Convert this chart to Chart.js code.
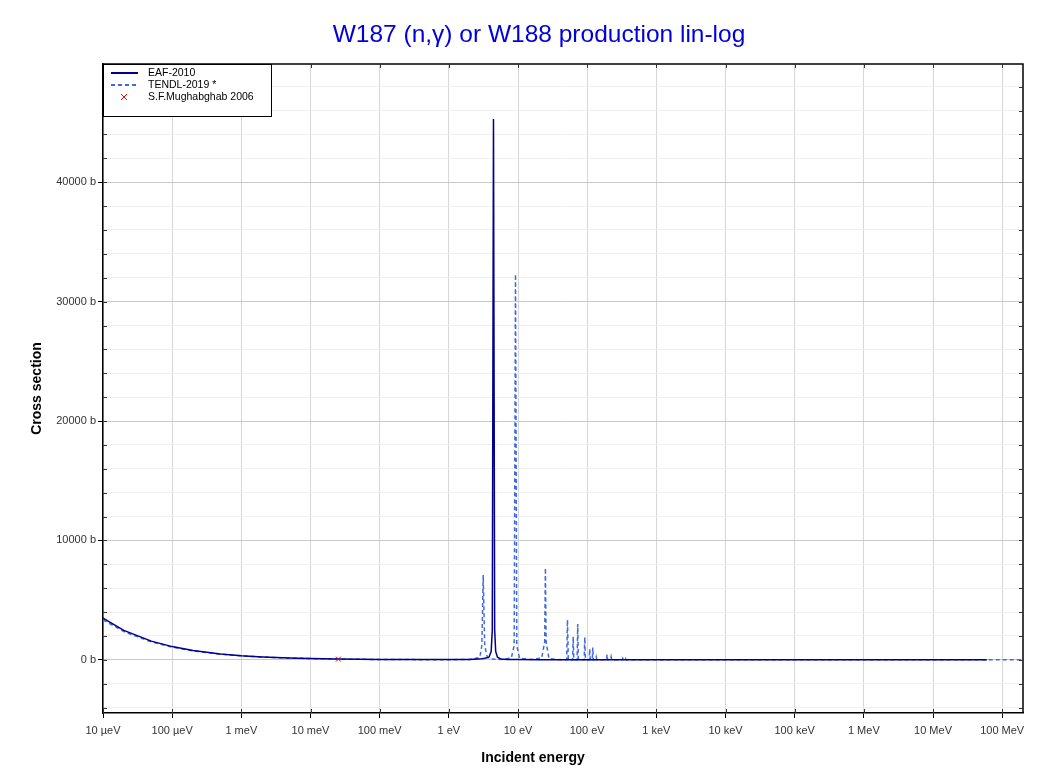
<!DOCTYPE html>
<html>
<head>
<meta charset="utf-8">
<title>W187 (n,γ) or W188 production lin-log</title>
<script src="https://cdn.jsdelivr.net/npm/chart.js@4.4.0/dist/chart.umd.min.js"></script>
<style>
  html, body { margin: 0; padding: 0; background: #fff; }
  #wrap { width: 1053px; height: 772px; }
</style>
</head>
<body>
<div id="wrap"><canvas id="xsChart" width="1053" height="772"></canvas></div>
<script>
const FONT = '"Liberation Sans", Arial, sans-serif';

// axis ticks
const energyTicks = [1e-5, 1e-4, 1e-3, 1e-2, 1e-1, 1, 10, 100, 1e3, 1e4, 1e5, 1e6, 1e7, 1e8];
const energyLabels = ['10 µeV', '100 µeV', '1 meV', '10 meV', '100 meV', '1 eV', '10 eV', '100 eV',
                      '1 keV', '10 keV', '100 keV', '1 MeV', '10 MeV', '100 MeV'];
const xsLabelTicks = [0, 10000, 20000, 30000, 40000];

// EAF-2010 (energy in eV, cross section in b)
const eafE  = [1e-5, 2e-5, 5e-5, 1e-4, 2e-4, 5e-4, 1e-3, 2e-3, 5e-3, 1e-2, 0.0253, 0.05, 0.1, 0.2, 0.5,
               1, 2, 3, 3.3, 3.8, 4.09, 4.25, 4.42, 4.6, 4.76, 5.05, 5.6,
               7, 10, 20, 50, 100, 1e3, 1e4, 1e5, 1e6, 1e7, 6e7];
const eafXS = [3500, 2470, 1570, 1110, 785, 495, 350, 248, 157, 111, 70, 50, 36, 27, 20,
               20, 35, 90, 130, 220, 700, 2500, 45300, 2500, 700, 220, 80,
               40, 20, 6, 3, 2, 1, 0.5, 0.3, 0.2, 0.05, 0.01];

// TENDL-2019
const tendlE  = [1e-5, 2e-5, 5e-5, 1e-4, 2e-4, 5e-4, 1e-3, 2e-3, 5e-3, 1e-2, 0.0253, 0.05, 0.1, 0.3,
                 1, 2, 2.8, 3.0, 3.14, 3.3, 3.6, 4.5, 6,
                 8, 8.8, 9.2, 9.6, 10.5, 15,
                 22, 24.3, 24.9, 25.5, 28, 40,
                 50.5, 51.9, 53.3, 61.5, 62.8, 64.1, 71.5, 73, 74.5, 90.5, 92.4, 94.3,
                 107, 109, 111, 118.5, 120.5, 122.5, 132, 135, 138, 190, 194, 198,
                 218, 222, 226, 321, 327, 333, 354, 360, 366,
                 500, 1e3, 1e4, 1e5, 1e6, 1e7, 1e8, 2e8];
const tendlXS = [3350, 2370, 1500, 1060, 750, 475, 336, 238, 150, 106, 67, 48, 34, 20,
                 15, 30, 200, 1200, 7100, 1200, 200, 50, 40,
                 150, 1200, 32300, 1200, 150, 30,
                 150, 1500, 7700, 1500, 100, 20,
                 10, 3350, 10, 10, 1950, 10, 10, 3000, 10, 10, 1900, 10,
                 8, 920, 8, 8, 1030, 8, 6, 250, 6, 5, 450, 5,
                 5, 250, 5, 4, 130, 4, 4, 100, 4,
                 3, 2, 0.6, 0.3, 0.15, 0.05, 0.01, 0.005];

// S.F.Mughabghab 2006 thermal point
const expE  = [0.0253];
const expXS = [64];

const toPoints = (xs, ys) => xs.map((x, i) => ({ x: x, y: ys[i] }));

// chart title and x-axis title, placed where the reference has them
const textPlugin = {
  id: 'titleText',
  afterDraw(chart) {
    const ctx = chart.ctx;
    ctx.save();
    ctx.textAlign = 'center';
    ctx.textBaseline = 'middle';
    ctx.font = '24.5px ' + FONT;
    ctx.fillStyle = '#0000dd';
    ctx.fillText('W187 (n,γ) or W188 production lin-log', 539, 35);
    ctx.font = 'bold 14px ' + FONT;
    ctx.fillStyle = '#000';
    ctx.fillText('Incident energy', 533, 758);
    ctx.restore();
  }
};

// top/right frame and the small inward ticks
const framePlugin = {
  id: 'frame',
  afterDatasetsDraw(chart) {
    const { ctx, chartArea: a, scales } = chart;
    ctx.save();
    ctx.strokeStyle = '#000';
    ctx.lineWidth = 1.5;
    ctx.beginPath();
    ctx.moveTo(a.left, a.top); ctx.lineTo(a.right, a.top); ctx.lineTo(a.right, a.bottom);
    ctx.stroke();
    ctx.lineWidth = 1;
    ctx.strokeStyle = '#333';
    ctx.beginPath();
    scales.y.ticks.forEach(t => {
      const py = Math.round(scales.y.getPixelForValue(t.value)) + 0.5;
      ctx.moveTo(a.left, py); ctx.lineTo(a.left + 4, py);
      ctx.moveTo(a.right, py); ctx.lineTo(a.right - 4, py);
    });
    scales.x.ticks.forEach(t => {
      const px = Math.round(scales.x.getPixelForValue(t.value)) + 0.5;
      ctx.moveTo(px, a.bottom); ctx.lineTo(px, a.bottom - 4);
      ctx.moveTo(px, a.top); ctx.lineTo(px, a.top + 4);
    });
    ctx.stroke();
    ctx.restore();
  }
};

// boxed legend in the top-left corner of the plot
const legendPlugin = {
  id: 'boxLegend',
  afterDraw(chart) {
    const { ctx, chartArea: a } = chart;
    const x0 = a.left, y0 = a.top, w = 168, h = 52;
    ctx.save();
    ctx.fillStyle = '#fff';
    ctx.fillRect(x0, y0, w, h);
    ctx.strokeStyle = '#000';
    ctx.lineWidth = 1;
    ctx.strokeRect(x0 + 0.5, y0 + 0.5, w, h);
    ctx.font = '10.5px ' + FONT;
    ctx.textBaseline = 'middle';
    ctx.fillStyle = '#000';
    chart.data.datasets.forEach((ds, i) => {
      const yy = y0 + 9 + i * 12;
      if (ds.showLine === false) {
        ctx.strokeStyle = ds.pointBorderColor;
        ctx.lineWidth = 1;
        ctx.beginPath();
        ctx.moveTo(x0 + 18, yy - 3); ctx.lineTo(x0 + 24, yy + 3);
        ctx.moveTo(x0 + 24, yy - 3); ctx.lineTo(x0 + 18, yy + 3);
        ctx.stroke();
      } else {
        ctx.strokeStyle = ds.borderColor;
        ctx.lineWidth = 2;
        ctx.setLineDash(ds.borderDash || []);
        ctx.beginPath();
        ctx.moveTo(x0 + 8, yy); ctx.lineTo(x0 + 35, yy);
        ctx.stroke();
        ctx.setLineDash([]);
      }
      ctx.fillText(ds.label, x0 + 45, yy);
    });
    ctx.restore();
  }
};

new Chart(document.getElementById('xsChart'), {
  type: 'line',
  data: {
    datasets: [
      {
        label: 'EAF-2010',
        data: toPoints(eafE, eafXS),
        borderColor: '#00008b',
        borderWidth: 1.5,
        pointRadius: 0,
        fill: false,
        order: 1
      },
      {
        label: 'TENDL-2019 *',
        data: toPoints(tendlE, tendlXS),
        borderColor: '#4169e1',
        borderWidth: 1.5,
        borderDash: [4, 3],
        pointRadius: 0,
        fill: false,
        order: 2
      },
      {
        label: 'S.F.Mughabghab 2006',
        data: toPoints(expE, expXS),
        showLine: false,
        pointStyle: 'crossRot',
        pointRadius: 3.5,
        pointBorderWidth: 1,
        pointBorderColor: '#ff0000',
        order: 0
      }
    ]
  },
  options: {
    responsive: false,
    animation: false,
    devicePixelRatio: 1,
    layout: { padding: { top: 64, right: 30, left: 0, bottom: 0 } },
    plugins: {
      legend: { display: false },
      title: { display: false },
      tooltip: { enabled: false }
    },
    scales: {
      x: {
        type: 'logarithmic',
        min: 1e-5,
        max: 2e8,
        afterBuildTicks(scale) { scale.ticks = energyTicks.map(v => ({ value: v })); },
        afterFit(scale) { scale.height = 59; },
        ticks: {
          autoSkip: false,
          maxRotation: 0,
          padding: 6,
          color: '#333',
          font: { family: FONT, size: 11 },
          callback: (v, i) => energyLabels[i]
        },
        grid: { color: '#d6d6d6', tickLength: 5, tickColor: '#000' },
        border: { display: true, color: '#000', width: 1.5 }
      },
      y: {
        type: 'linear',
        min: -4450,
        max: 49900,
        afterBuildTicks(scale) {
          const t = [];
          for (let v = -4000; v <= 48000; v += 2000) t.push({ value: v });
          scale.ticks = t;
        },
        afterFit(scale) { scale.width = 103; },
        ticks: {
          autoSkip: false,
          padding: 2,
          color: '#333',
          font: { family: FONT, size: 11 },
          callback: v => xsLabelTicks.includes(v) ? v + ' b' : ''
        },
        grid: {
          color: c => (c.tick && c.tick.value % 10000 === 0) ? '#c8c8c8' : '#f0f0f0',
          tickLength: 5,
          tickColor: c => (c.tick && c.tick.value % 10000 === 0) ? '#000' : 'rgba(0,0,0,0)'
        },
        border: { display: true, color: '#000', width: 1.5 },
        title: {
          display: true,
          text: 'Cross section',
          color: '#000',
          font: { family: FONT, size: 14, weight: 'bold' },
          padding: { top: 29, bottom: 0 }
        }
      }
    }
  },
  plugins: [framePlugin, legendPlugin, textPlugin]
});
</script>
</body>
</html>
